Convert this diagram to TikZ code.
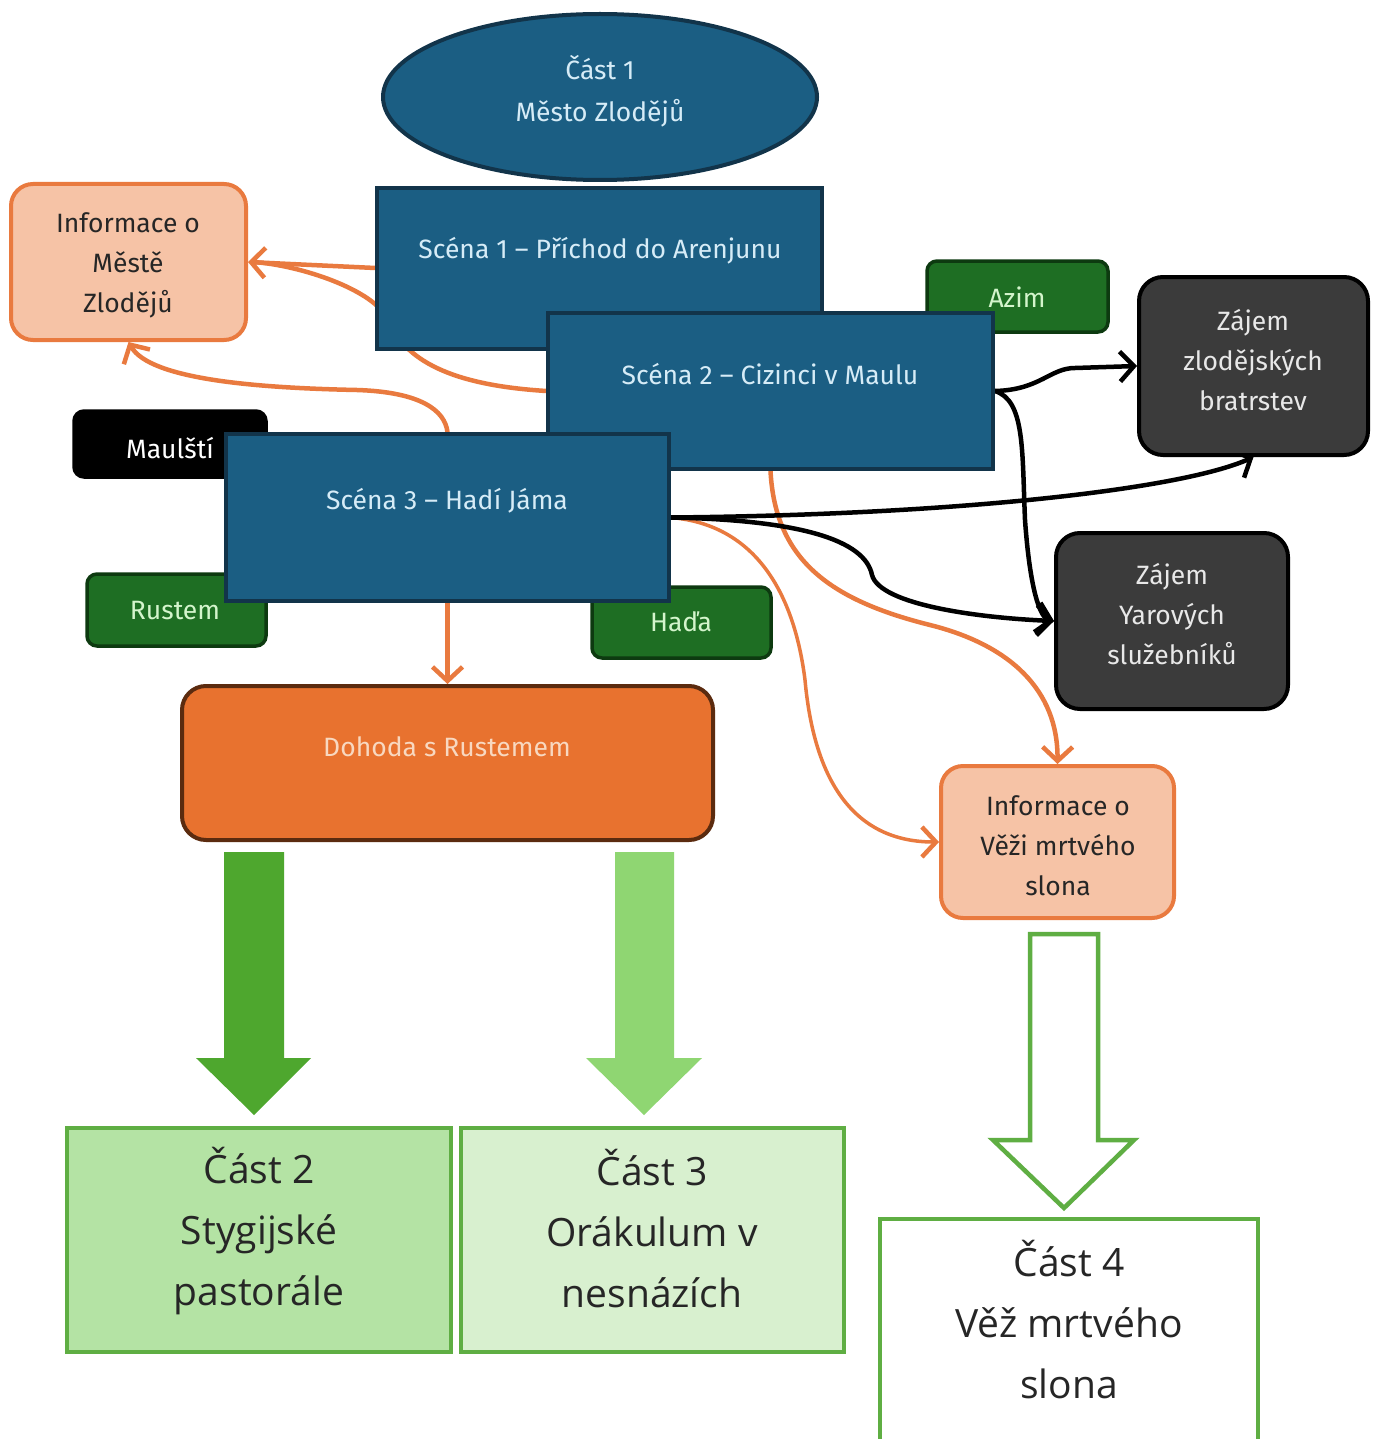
\documentclass[tikz,border=0pt]{standalone}
\usepackage{fontspec}
\setmainfont{Fira Sans}
\newfontfamily\bigfont{Open Sans}
\usetikzlibrary{arrows.meta,shapes.geometric}
\pgfdeclarelayer{bg}
\pgfdeclarelayer{paper}
\pgfsetlayers{paper,bg,main}
\definecolor{sceneblue}{HTML}{1B5E83}
\definecolor{scenedark}{HTML}{12344A}
\definecolor{scenetxt}{HTML}{D6ECF7}
\definecolor{infofill}{HTML}{F6C3A6}
\definecolor{orangeline}{HTML}{E97A3F}
\definecolor{dealfill}{HTML}{E8722F}
\definecolor{dealdark}{HTML}{5B2B0F}
\definecolor{dealtxt}{HTML}{F8D8C0}
\definecolor{charfill}{HTML}{1E6E23}
\definecolor{chardark}{HTML}{0D3A10}
\definecolor{chartxt}{HTML}{D4F5CC}
\definecolor{greyfill}{HTML}{3B3B3B}
\definecolor{greytxt}{HTML}{E8E8E8}
\definecolor{arrowA}{HTML}{4EA72E}
\definecolor{arrowB}{HTML}{8FD672}
\definecolor{partline}{HTML}{5FAE43}
\definecolor{partA}{HTML}{B4E3A4}
\definecolor{partB}{HTML}{D8F0CF}
\begin{document}
\begin{tikzpicture}[x=1pt,y=-1pt,
  smalltext/.style={font=\fontsize{26.5}{40}\selectfont, align=center, inner sep=0pt},
  scenebox/.style={draw=scenedark, line width=3.5pt, fill=sceneblue, inner sep=0pt},
  infobox/.style={draw=orangeline, line width=4pt, fill=infofill, rounded corners=22pt, inner sep=0pt},
  charbox/.style={draw=chardark, line width=3.5pt, fill=charfill, rounded corners=10pt, inner sep=0pt},
  greybox/.style={draw=black, line width=4pt, fill=greyfill, rounded corners=24pt, inner sep=0pt},
  partbox/.style={draw=partline, line width=4pt, inner sep=0pt},
  parttext/.style={font=\bigfont\fontsize{39}{61}\selectfont, align=center, inner sep=0pt, text=black!85},
  oline/.style={draw=orangeline, line width=4.5pt},
  bline/.style={draw=black, line width=4.5pt},
  tip/.style={-{Straight Barb[length=14pt,width=30pt,line width=4.5pt]}}
]
\useasboundingbox (0,0) rectangle (1375,1439);
\clip (0,0) rectangle (1375,1439);
\begin{pgfonlayer}{paper}
\fill[white] (0,0) rectangle (1375,1439);
\end{pgfonlayer}

% ellipse
\node[ellipse, draw=scenedark, line width=4pt, fill=sceneblue, minimum width=434pt, minimum height=166pt, inner sep=0pt] (part1) at (600,97) {};
\node[smalltext, text=scenetxt, font=\fontsize{26.5}{42}\selectfont] (part1t) at (600,91) {Část 1\\Město Zlodějů};

% characters behind scenes
\node[charbox, minimum width=181pt, minimum height=71pt] (azim) at (1017.5,296.5) {};
\node[smalltext, text=chartxt] (azimt) at (1017,297) {Azim};
\node[charbox, draw=black, fill=black, minimum width=192pt, minimum height=66pt] (maul) at (170,444) {};
\node[smalltext, text=white] (mault) at (170,448) {Maulští};
\node[charbox, minimum width=179pt, minimum height=72pt] (rustem) at (176.5,610) {};
\node[smalltext, text=chartxt] (rustemt) at (175,611) {Rustem};
\node[charbox, minimum width=179pt, minimum height=71pt] (hada) at (681.5,622.5) {};
\node[smalltext, text=chartxt] (hadat) at (681,622) {Haďa};

% scenes
\node[scenebox, minimum width=445pt, minimum height=161pt] (s1) at (599.5,268.5) {};
\node[smalltext, text=scenetxt] (s1t) at (600,251) {Scéna 1 – Příchod do Arenjunu};
\node[scenebox, minimum width=445pt, minimum height=156pt] (s2) at (770.5,391) {};
\node[smalltext, text=scenetxt] (s2t) at (770,374) {Scéna 2 – Cizinci v Maulu};
\node[scenebox, minimum width=443pt, minimum height=167pt] (s3) at (447.5,517.5) {};
\node[smalltext, text=scenetxt] (s3t) at (447,501) {Scéna 3 – Hadí Jáma};

% info boxes
\node[infobox, minimum width=235pt, minimum height=156pt] (info1) at (128.5,262) {};
\node[smalltext, text=black!85] (info1t) at (128,265) {Informace o\\Městě\\Zlodějů};
\node[infobox, minimum width=233pt, minimum height=152pt] (info2) at (1057.5,842) {};
\node[smalltext, text=black!85] (info2t) at (1058,846) {Informace o\\Věži mrtvého\\slona};

% grey boxes
\node[greybox, minimum width=229pt, minimum height=178pt] (zz) at (1253.5,366) {};
\node[smalltext, text=greytxt] (zzt) at (1253,360) {Zájem\\zlodějských\\bratrstev};
\node[greybox, minimum width=232pt, minimum height=176pt] (zy) at (1172,621) {};
\node[smalltext, text=greytxt] (zyt) at (1172,614) {Zájem\\Yarových\\služebníků};

% deal
\node[draw=dealdark, line width=4pt, fill=dealfill, rounded corners=24pt, minimum width=531pt, minimum height=154pt, inner sep=0pt] (deal) at (447.5,763) {};
\node[smalltext, text=dealtxt] (dealt) at (447,747) {Dohoda s Rustemem};

% parts
\node[partbox, fill=partA, minimum width=384pt, minimum height=224pt] (part2) at (259,1240) {};
\node[parttext] (part2t) at (259,1231) {Část 2\\Stygijské\\pastorále};
\node[partbox, fill=partB, minimum width=383pt, minimum height=224pt] (part3) at (652.5,1240) {};
\node[parttext] (part3t) at (652,1229) {Část 3\\Orákulum v\\nesnázích};
\node[partbox, fill=white, minimum width=378pt, minimum height=260pt] (part4) at (1069,1349) {};
\node[parttext] (part4t) at (1069,1320) {Část 4\\Věž mrtvého\\slona};

% block arrows
\fill[arrowA] (224,852) -- (284,852) -- (284,1058) -- (311,1058) -- (254,1115) -- (196,1058) -- (224,1058) -- cycle;
\fill[arrowB] (615,852) -- (674,852) -- (674,1058) -- (702,1058) -- (644,1115) -- (586,1058) -- (615,1058) -- cycle;
\draw[partline, line width=4.5pt, fill=white, line join=miter] (1030,934) -- (1098,934) -- (1098,1140) -- (1134,1140) -- (1064,1208) -- (993,1140) -- (1030,1140) -- cycle;

% connectors
\begin{pgfonlayer}{bg}
\draw[oline, tip] (s1.west |- 0,268) -- (info1.east);
\draw[oline] (s2.west) .. controls (450,385) and (405,360) .. (388,320) .. controls (375,290) and (300,265) .. ([xshift=5pt]info1.east);
\draw[oline, tip] (s3.north) .. controls (445,410) and (420,392) .. (357,390) .. controls (260,388) and (150,380) .. (info1.south);
\draw[oline, tip] (s3.south) -- (deal.north);
\draw[oline, tip] (s2.south) .. controls (775,560) and (830,600) .. (930,625) .. controls (1010,645) and (1058,690) .. (info2.north);
\draw[oline, line width=3.5pt, tip] (s3.east) .. controls (760,525) and (795,600) .. (805,680) .. controls (815,790) and (860,842) .. (info2.west);
\draw[bline, tip] (s2.east) .. controls (1040,390) and (1050,368) .. (1075,368) -- (zz.west);
\draw[bline, tip] (s2.east) .. controls (1025,400) and (1022,450) .. (1025,520) .. controls (1030,590) and (1040,618) .. (zy.west);
\draw[bline, tip] (s3.east) .. controls (950,515) and (1180,490) .. (zz.south);
\draw[bline, tip] (s3.east) .. controls (800,520) and (865,540) .. (872,575) .. controls (880,605) and (980,618) .. (zy.west);
\end{pgfonlayer}
\end{tikzpicture}
\end{document}
